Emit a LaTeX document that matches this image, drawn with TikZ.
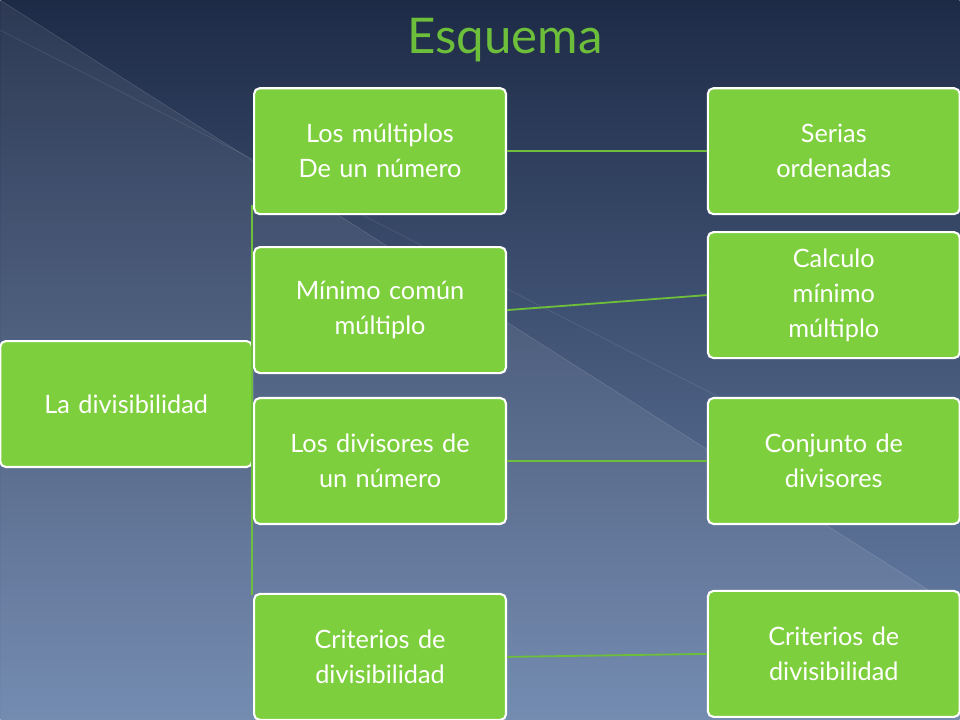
\documentclass[tikz,border=0pt]{standalone}
\usepackage{fontspec}
\setmainfont{Lato}
\usetikzlibrary{positioning}
\definecolor{boxgreen}{HTML}{7DCF3D}
\definecolor{linegreen}{HTML}{6DBE3A}
\definecolor{bgtop}{HTML}{1E2B47}
\definecolor{bgbot}{HTML}{6B84AC}
\begin{document}
\begin{tikzpicture}[x=0.025cm,y=-0.025cm,
    bx/.style={draw=white,line width=1.5pt,fill=boxgreen,rounded corners=4pt,
      minimum width=6.3cm,minimum height=3.15cm,text width=6cm,align=center,
      text=white,font=\fontsize{18}{25}\selectfont},
    lk/.style={draw=linegreen,line width=1.3pt}
    ]
\shade[top color=bgtop,bottom color=bgbot] (0,0) rectangle (960,720);
\fill[white,opacity=0.07] (0,0) -- (960,610) -- (960,720) -- (0,720) -- cycle;
\draw[white,opacity=0.15] (0,0) -- (960,610);
\draw[white,opacity=0.12] (0,30) -- (960,520);
\useasboundingbox (0,0) rectangle (960,720);
\node[text=linegreen,font=\fontsize{35}{40}\selectfont] (title) at (505,40) {Esquema};
% root
\node[bx] (root) at (126,404) {La divisibilidad};
% first level
\node[bx] (mult) at (380,151) {Los múltiplos\\De un número};
\node[bx] (mcm) at (380,310) {Mínimo común\\múltiplo};
\node[bx] (div) at (380,461) {Los divisores de\\un número};
\node[bx] (crit) at (380,657) {Criterios de\\divisibilidad};
% second level
\node[bx] (seri) at (834,151) {Serias\\ordenadas};
\node[bx] (calc) at (834,295) {Calculo\\mínimo\\múltiplo};
\node[bx] (conj) at (834,461) {Conjunto de\\divisores};
\node[bx] (critb) at (834,654) {Criterios de\\divisibilidad};
% links
\coordinate (top) at (252,205);
\coordinate (bot) at (252,595);
\draw[lk] (top) -- (bot);
\draw[lk] (mult.east) -- (seri.west);
\draw[lk] (mcm.east) -- (calc.west);
\draw[lk] (div.east) -- (conj.west);
\draw[lk] (crit.east) -- (critb.west);
\end{tikzpicture}
\end{document}
